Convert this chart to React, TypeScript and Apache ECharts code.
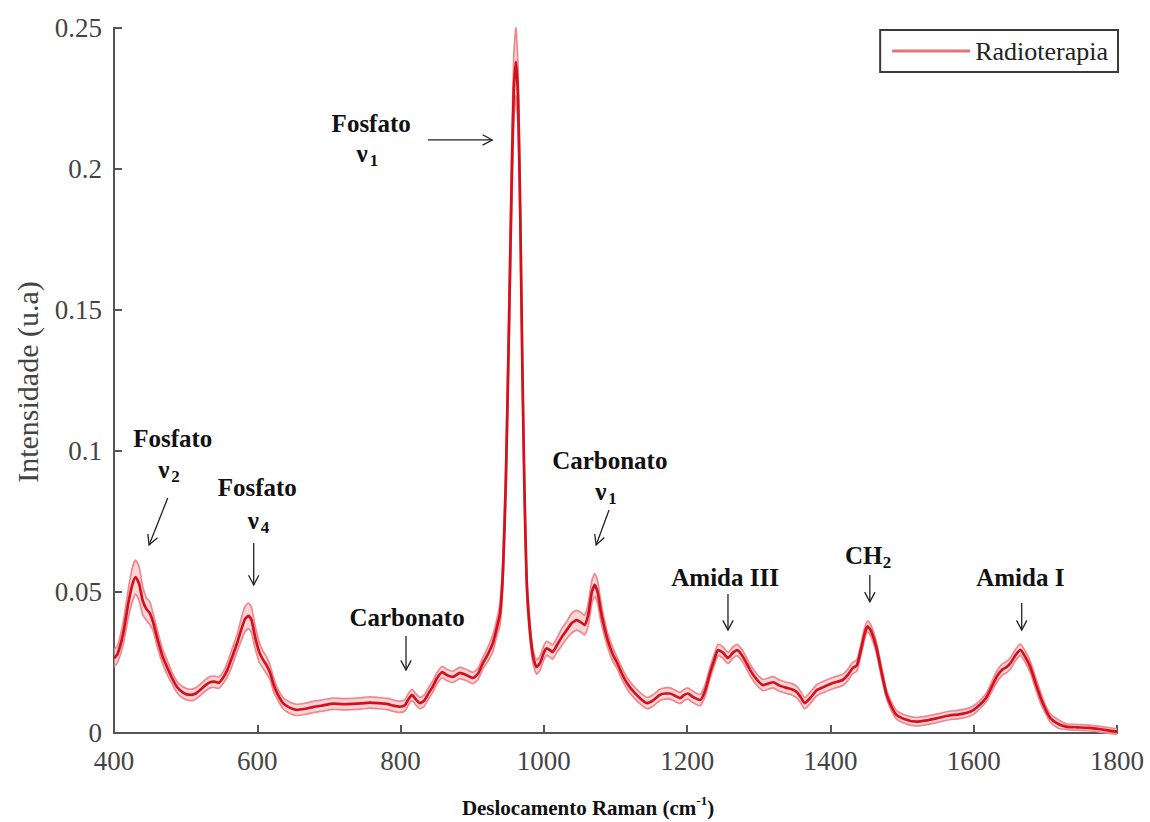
import React, { useEffect, useRef } from "react";
import * as echarts from "echarts";

// Raman shift (cm-1)
const XS = [
  400, 405, 413, 420, 425, 430, 435, 440, 445, 450, 455, 461, 468, 474, 481, 488, 497, 506, 514, 520,
  527, 534, 540, 546, 552, 558, 565, 572, 578, 583, 588, 592, 597, 603, 608, 613, 618, 623, 628, 636,
  645, 655, 667, 678, 692, 706, 720, 733, 745, 757, 769, 781, 790, 799, 806, 811, 816, 821, 827, 833,
  840, 845, 851, 858, 865, 873, 883, 892, 901, 908, 915, 922, 929, 935, 939, 943, 947, 951, 955, 958,
  961, 964, 967, 970, 973, 976, 980, 985, 990, 995, 1000, 1004, 1008, 1012, 1018, 1025, 1032, 1039, 1046, 1052,
  1057, 1062, 1067, 1071, 1075, 1079, 1083, 1089, 1096, 1102, 1109, 1116, 1124, 1134, 1144, 1152, 1162, 1169, 1176, 1183,
  1190, 1196, 1201, 1208, 1218, 1225, 1232, 1238, 1243, 1250, 1257, 1264, 1270, 1278, 1288, 1297, 1306, 1313, 1320, 1329,
  1339, 1346, 1353, 1359, 1364, 1372, 1381, 1392, 1403, 1417, 1424, 1431, 1437, 1443, 1448, 1452, 1457, 1464, 1471, 1478,
  1485, 1492, 1505, 1520, 1535, 1550, 1566, 1580, 1595, 1605, 1618, 1632, 1640, 1646, 1652, 1658, 1665, 1672, 1679, 1686,
  1693, 1700, 1707, 1718, 1730, 1745, 1762, 1780, 1800,
];

// Mean intensity (u.a)
const MEAN = [
  0.0265, 0.028, 0.0355, 0.046, 0.052, 0.0553, 0.053, 0.047, 0.044, 0.0425, 0.039, 0.033, 0.027, 0.0234, 0.0195, 0.0163, 0.0142, 0.0135, 0.014, 0.0152,
  0.0168, 0.018, 0.0182, 0.0178, 0.0195, 0.0223, 0.027, 0.032, 0.037, 0.0405, 0.0415, 0.04, 0.034, 0.0285, 0.026, 0.024, 0.0213, 0.017, 0.014, 0.0106,
  0.009, 0.0082, 0.0086, 0.0092, 0.0098, 0.0104, 0.0102, 0.0103, 0.0105, 0.0108, 0.0106, 0.0103, 0.0097, 0.0093, 0.0098, 0.012, 0.0135, 0.012, 0.0106, 0.0115,
  0.0145, 0.0165, 0.0195, 0.0216, 0.0205, 0.0199, 0.0213, 0.0205, 0.0195, 0.021, 0.0248, 0.028, 0.032, 0.038, 0.0425, 0.058, 0.09, 0.14, 0.195, 0.228,
  0.238, 0.225, 0.185, 0.13, 0.085, 0.054, 0.038, 0.027, 0.0234, 0.025, 0.0285, 0.03, 0.0295, 0.0287, 0.031, 0.034, 0.0365, 0.039, 0.04, 0.0392,
  0.0383, 0.042, 0.05, 0.0525, 0.05, 0.044, 0.039, 0.033, 0.028, 0.025, 0.021, 0.0177, 0.015, 0.0124, 0.0106, 0.0115, 0.0135, 0.014, 0.014, 0.0132,
  0.0124, 0.0135, 0.014, 0.0128, 0.0117, 0.015, 0.0213, 0.026, 0.0294, 0.0285, 0.0266, 0.0285, 0.0294, 0.027, 0.0223, 0.019, 0.017, 0.0175, 0.018, 0.0168,
  0.016, 0.0155, 0.0145, 0.0125, 0.0106, 0.0125, 0.0152, 0.0165, 0.0177, 0.0188, 0.0205, 0.023, 0.024, 0.03, 0.0355, 0.0378, 0.036, 0.0305, 0.022, 0.014,
  0.0095, 0.0065, 0.0048, 0.004, 0.0045, 0.0053, 0.0062, 0.0066, 0.0075, 0.0092, 0.0128, 0.0199, 0.0225, 0.0234, 0.025, 0.0275, 0.0295, 0.027, 0.0234, 0.018,
  0.0128, 0.0085, 0.0053, 0.0032, 0.0022, 0.002, 0.0018, 0.0012, 0.0005,
];

// Half-width of the shaded band (standard deviation)
const SD = [
  0.003, 0.003, 0.004, 0.005, 0.006, 0.006, 0.006, 0.005, 0.004, 0.004, 0.003, 0.003, 0.0025, 0.0025, 0.002, 0.002, 0.002, 0.002, 0.002, 0.002,
  0.002, 0.002, 0.002, 0.002, 0.002, 0.0025, 0.003, 0.003, 0.004, 0.0045, 0.0045, 0.0045, 0.004, 0.0035, 0.003, 0.003, 0.0025, 0.0025, 0.002, 0.002,
  0.002, 0.002, 0.002, 0.002, 0.002, 0.002, 0.002, 0.002, 0.002, 0.002, 0.002, 0.002, 0.002, 0.002, 0.002, 0.002, 0.002, 0.002, 0.002, 0.002,
  0.002, 0.002, 0.002, 0.002, 0.002, 0.002, 0.002, 0.002, 0.002, 0.002, 0.002, 0.0025, 0.003, 0.003, 0.004, 0.005, 0.007, 0.009, 0.011, 0.012,
  0.012, 0.011, 0.01, 0.008, 0.006, 0.004, 0.003, 0.0025, 0.0025, 0.0025, 0.0025, 0.0025, 0.0025, 0.0025, 0.0025, 0.003, 0.003, 0.0035, 0.0035, 0.0035,
  0.0035, 0.004, 0.004, 0.004, 0.004, 0.0035, 0.003, 0.0025, 0.0025, 0.002, 0.002, 0.002, 0.002, 0.002, 0.002, 0.002, 0.002, 0.002, 0.002, 0.002,
  0.002, 0.002, 0.002, 0.002, 0.002, 0.002, 0.002, 0.002, 0.002, 0.002, 0.002, 0.002, 0.002, 0.002, 0.002, 0.002, 0.002, 0.002, 0.002, 0.002,
  0.002, 0.002, 0.002, 0.002, 0.002, 0.002, 0.002, 0.002, 0.002, 0.002, 0.002, 0.002, 0.002, 0.002, 0.002, 0.002, 0.002, 0.002, 0.002, 0.0015,
  0.0015, 0.0015, 0.0015, 0.0015, 0.0015, 0.0015, 0.0015, 0.0015, 0.0015, 0.0015, 0.0015, 0.002, 0.002, 0.002, 0.002, 0.002, 0.002, 0.002, 0.002, 0.002,
  0.002, 0.0015, 0.0015, 0.0015, 0.001, 0.001, 0.001, 0.001, 0.001,
];

const X_MIN = 400;
const X_MAX = 1800;
const X_STEP = 200;
const Y_MIN = 0;
const Y_MAX = 0.25;
const Y_STEP = 0.05;

const SERIES_NAME = "Radioterapia";
const X_TITLE = "Deslocamento Raman (cm";
const X_TITLE_SUP = "-1";
const Y_TITLE = "Intensidade (u.a)";

// Peak annotations in data coordinates: label rows and arrow [from, to]
type Row = { text: string; sub?: string; x: number; y: number };
type Note = { rows: Row[]; arrow: [number, number][] };
const NOTES: Note[] = [
  { rows: [{ text: "Fosfato", x: 482, y: 0.1046 }, { text: "ν", sub: "2", x: 475, y: 0.0933 }], arrow: [[475, 0.0833], [449, 0.0667]] },
  { rows: [{ text: "Fosfato", x: 600, y: 0.0872 }, { text: "ν", sub: "4", x: 600, y: 0.0752 }], arrow: [[595, 0.0674], [595, 0.0525]] },
  { rows: [{ text: "Fosfato", x: 759, y: 0.2163 }, { text: "ν", sub: "1", x: 752, y: 0.2055 }], arrow: [[838, 0.2103], [928, 0.2103]] },
  { rows: [{ text: "Carbonato", x: 809, y: 0.0411 }], arrow: [[807.6, 0.0344], [807.6, 0.0223]] },
  { rows: [{ text: "Carbonato", x: 1092, y: 0.0968 }, { text: "ν", sub: "1", x: 1085, y: 0.0855 }], arrow: [[1091, 0.0791], [1073, 0.0667]] },
  { rows: [{ text: "Amida III", x: 1253, y: 0.0553 }], arrow: [[1257, 0.0493], [1257, 0.0365]] },
  { rows: [{ text: "CH", sub: "2", x: 1452, y: 0.0628 }], arrow: [[1455, 0.056], [1455, 0.0465]] },
  { rows: [{ text: "Amida I", x: 1665, y: 0.055 }], arrow: [[1667, 0.0461], [1667, 0.0365]] },
];

const SERIF = '"Liberation Serif", "Times New Roman", serif';
const MEAN_COLOR = "#d3101c";
const BAND_COLOR = "#ef878d";

export default function App() {
  const ref = useRef<HTMLDivElement>(null);

  useEffect(() => {
    document.body.style.margin = "0";
    if (!ref.current) return;
    const chart = echarts.init(ref.current, undefined, { renderer: "svg" });

    const meanData = XS.map((x, i) => [x, MEAN[i]]);
    const bandData = XS.map((x, i) => [x, MEAN[i] - SD[i], MEAN[i] + SD[i]]);

    chart.setOption({
      animation: false,
      backgroundColor: "#ffffff",
      grid: { left: 114, right: 33, top: 28, bottom: 89, containLabel: false },
      legend: {
        data: [{ name: SERIES_NAME, icon: "rect", itemStyle: { color: "#e8737b" } }],
        right: 32,
        top: 30,
        itemWidth: 78,
        itemHeight: 3,
        padding: [8, 10, 8, 12],
        borderColor: "#3a3a3a",
        borderWidth: 2,
        textStyle: { fontFamily: SERIF, fontSize: 26, color: "#222" },
        selectedMode: false,
      },
      xAxis: {
        type: "value",
        min: X_MIN,
        max: X_MAX,
        interval: X_STEP,
        splitLine: { show: false },
        axisLine: { lineStyle: { color: "#555", width: 2 } },
        axisTick: { inside: true, length: 8, lineStyle: { color: "#555", width: 2 } },
        axisLabel: { fontFamily: SERIF, fontSize: 27, color: "#444", margin: 14, formatter: (v: number) => String(v) },
      },
      yAxis: {
        type: "value",
        min: Y_MIN,
        max: Y_MAX,
        interval: Y_STEP,
        splitLine: { show: false },
        axisLine: { show: true, lineStyle: { color: "#555", width: 2 } },
        axisTick: { show: true, inside: true, length: 8, lineStyle: { color: "#555", width: 2 } },
        axisLabel: { fontFamily: SERIF, fontSize: 27, color: "#444", margin: 12 },
      },
      series: [
        {
          name: "band",
          type: "custom",
          data: bandData,
          silent: true,
          z: 1,
          encode: { x: 0, y: [1, 2] },
          renderItem: (params: any, api: any) => {
            if (params.dataIndex !== 0) return null;
            const upper: number[][] = [];
            const lower: number[][] = [];
            for (let i = 0; i < bandData.length; i++) {
              upper.push(api.coord([bandData[i][0], bandData[i][2]]));
              lower.push(api.coord([bandData[i][0], bandData[i][1]]));
            }
            const poly = upper.concat(lower.slice().reverse());
            return {
              type: "group",
              children: [
                { type: "polygon", shape: { points: poly }, style: { fill: "rgba(247,180,184,0.55)", stroke: "none" } },
                { type: "polyline", shape: { points: upper, smooth: 0.2 }, style: { stroke: BAND_COLOR, lineWidth: 1.7, fill: "none" } },
                { type: "polyline", shape: { points: lower, smooth: 0.2 }, style: { stroke: BAND_COLOR, lineWidth: 1.7, fill: "none" } },
              ],
            };
          },
        },
        {
          name: SERIES_NAME,
          type: "line",
          data: meanData,
          showSymbol: false,
          smooth: 0.2,
          lineStyle: { color: MEAN_COLOR, width: 2.7 },
          itemStyle: { color: MEAN_COLOR },
          z: 3,
        },
      ],
    });

    const px = (p: [number, number]) => chart.convertToPixel({ gridIndex: 0 }, p) as number[];
    const graphics: any[] = [];
    const ink = "#111";
    const labelFont = `bold 25px ${SERIF}`;
    NOTES.forEach((n) => {
      n.rows.forEach((r) => {
        const c = px([r.x, r.y]);
        if (r.sub) {
          const mainW = r.text === "CH" ? 36 : 13;
          graphics.push({
            type: "text",
            x: c[0] - 4,
            y: c[1],
            style: { text: r.text, font: labelFont, fill: ink, align: "center", verticalAlign: "middle" },
          });
          graphics.push({
            type: "text",
            x: c[0] - 4 + mainW / 2 + 1,
            y: c[1] + 7,
            style: { text: r.sub, font: `bold 17px ${SERIF}`, fill: ink, align: "left", verticalAlign: "middle" },
          });
        } else {
          graphics.push({
            type: "text",
            x: c[0],
            y: c[1],
            style: { text: r.text, font: labelFont, fill: ink, align: "center", verticalAlign: "middle" },
          });
        }
      });
      const a = px(n.arrow[0]);
      const b = px(n.arrow[1]);
      const dx = b[0] - a[0];
      const dy = b[1] - a[1];
      const len = Math.sqrt(dx * dx + dy * dy);
      const ux = dx / len;
      const uy = dy / len;
      const hl = 11;
      const ang = (28 * Math.PI) / 180;
      const rot = (cx: number, cy: number, t: number) => [cx * Math.cos(t) - cy * Math.sin(t), cx * Math.sin(t) + cy * Math.cos(t)];
      const l1 = rot(-ux, -uy, ang);
      const l2 = rot(-ux, -uy, -ang);
      graphics.push({
        type: "line",
        shape: { x1: a[0], y1: a[1], x2: b[0], y2: b[1] },
        style: { stroke: "#222", lineWidth: 1.3 },
      });
      graphics.push({
        type: "polyline",
        shape: { points: [[b[0] + l1[0] * hl, b[1] + l1[1] * hl], [b[0], b[1]], [b[0] + l2[0] * hl, b[1] + l2[1] * hl]] },
        style: { stroke: "#222", lineWidth: 1.3, fill: null },
      });
    });

    // axis titles
    graphics.push({
      type: "text",
      x: 27,
      y: 382,
      rotation: Math.PI / 2,
      style: { text: Y_TITLE, font: `30px ${SERIF}`, fill: "#444", align: "center", verticalAlign: "middle" },
    });
    graphics.push({
      type: "text",
      x: 588,
      y: 806,
      style: {
        text: `{a|${X_TITLE}}{s|${X_TITLE_SUP}}{a|)}`,
        align: "center",
        verticalAlign: "middle",
        rich: {
          a: { fontFamily: SERIF, fontWeight: "bold", fontSize: 21, fill: "#111", verticalAlign: "bottom", lineHeight: 24 },
          s: { fontFamily: SERIF, fontWeight: "bold", fontSize: 13, fill: "#111", verticalAlign: "top", lineHeight: 24 },
        },
      },
    });

    chart.setOption({ graphic: graphics });

    return () => chart.dispose();
  }, []);

  return <div ref={ref} style={{ width: 1150, height: 822 }} />;
}
